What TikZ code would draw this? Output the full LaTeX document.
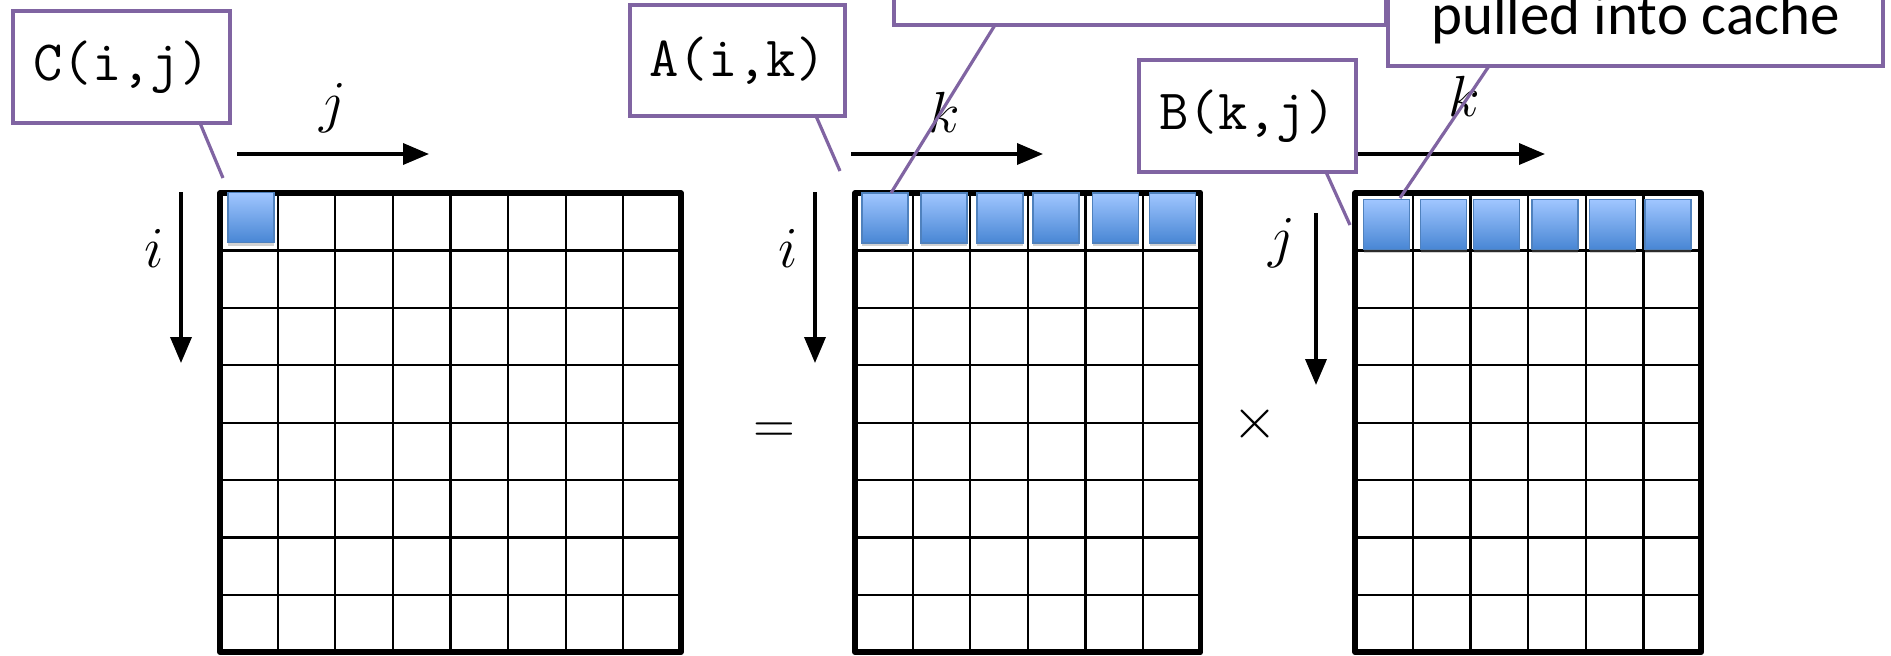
\RequirePackage{fix-cm}
\documentclass[tikz,border=0pt]{standalone}
\usepackage{fontspec}
\newfontfamily\calib{Carlito}
\usetikzlibrary{arrows.meta,shadows}
\definecolor{callpurple}{RGB}{128,100,162}
\definecolor{sqtop}{RGB}{160,198,255}
\definecolor{sqbot}{RGB}{72,134,212}
\definecolor{sqedge}{RGB}{79,129,189}
\tikzset{
  gridline/.style={line width=1.1pt, draw=black},
  frame/.style={line width=2.8pt, draw=black, line join=round},
  bluesq/.style={rectangle, inner sep=0pt, minimum width=23pt, minimum height=25pt,
    top color=sqtop, bottom color=sqbot, draw=sqedge, line width=0.6pt,
    drop shadow={shadow xshift=0pt, shadow yshift=-1.5pt, opacity=0.35}},
  axarrow/.style={line width=1.8pt, -{Triangle[length=13pt,width=10.5pt]}},
  mlabel/.style={inner sep=0pt, font=\fontsize{29}{32}\selectfont},
  callbox/.style={draw=callpurple, fill=white, line width=1.6pt, rectangle, inner sep=0pt,
    font=\fontsize{28.5}{30}\selectfont\ttfamily},
  callline/.style={draw=callpurple, line width=1.6pt}
}
\begin{document}
\begin{tikzpicture}[x=0.5pt,y=-0.5pt]
\clip (0,0) rectangle (1891,655);
\fill[white] (0,0) rectangle (1891,655);

% ---- Matrix C (8x8)
\foreach \k in {1,...,7} {
  \draw[gridline] ({220+57.6*\k},193) -- ({220+57.6*\k},652.2);
  \draw[gridline] (220,{193+57.4*\k}) -- (680.8,{193+57.4*\k});
}
\draw[frame] (220,193) rectangle (680.8,652.2);

% ---- Matrix A (8 rows x 6 cols)
\foreach \k in {1,...,5} \draw[gridline] ({855+57.6*\k},193) -- ({855+57.6*\k},652.2);
\foreach \k in {1,...,7} \draw[gridline] (855,{193+57.4*\k}) -- (1200.6,{193+57.4*\k});
\draw[frame] (855,193) rectangle (1200.6,652.2);

% ---- Matrix B (8 rows x 6 cols)
\foreach \k in {1,...,5} \draw[gridline] ({1355+57.7*\k},193) -- ({1355+57.7*\k},652.2);
\foreach \k in {1,...,7} \draw[gridline] (1355,{193+57.4*\k}) -- (1701.2,{193+57.4*\k});
\draw[frame] (1355,193) rectangle (1701.2,652.2);

% ---- blue cache squares
\node[bluesq] (c1) at (251,217.5) {};
\node[bluesq] (a1) at (885,218) {};
\node[bluesq] (a2) at (944,218) {};
\node[bluesq] (a3) at (1000,218) {};
\node[bluesq] (a4) at (1056,218) {};
\node[bluesq] (a5) at (1115.5,218) {};
\node[bluesq] (a6) at (1172.5,218) {};
\node[bluesq] (b1) at (1386.5,224.5) {};
\node[bluesq] (b2) at (1443.5,224.5) {};
\node[bluesq] (b3) at (1496.5,224.5) {};
\node[bluesq] (b4) at (1555,224.5) {};
\node[bluesq] (b5) at (1612.5,224.5) {};
\node[bluesq] (b6) at (1668,224.5) {};

% ---- index arrows
\coordinate (cjs) at (237,154);  \coordinate (cje) at (429,154);
\coordinate (cis) at (181,192);  \coordinate (cie) at (181,363);
\coordinate (aks) at (851,154);  \coordinate (ake) at (1043,154);
\coordinate (ais) at (815,192);  \coordinate (aie) at (815,363);
\coordinate (bks) at (1353,154); \coordinate (bke) at (1545,154);
\coordinate (bjs) at (1316,213); \coordinate (bje) at (1316,385);
\draw[axarrow] (cjs) -- (cje);
\draw[axarrow] (cis) -- (cie);
\draw[axarrow] (aks) -- (ake);
\draw[axarrow] (ais) -- (aie);
\draw[axarrow] (bks) -- (bke);
\draw[axarrow] (bjs) -- (bje);

% ---- index labels and operators
\node[mlabel] (lcj) at (333,108) {$j$};
\node[mlabel] (lci) at (154,248) {$i$};
\node[mlabel] (lak) at (944,112) {$k$};
\node[mlabel] (lai) at (788,248) {$i$};
\node[mlabel] (lbk) at (1464,96) {$k$};
\node[mlabel] (lbj) at (1282,243) {$j$};
\node[mlabel] (eq) at (774,433) {$=$};
\node[mlabel] (times) at (1255,424) {$\times$};

% ---- callouts
\coordinate (cp0) at (200,123);  \coordinate (cp1) at (223,178);
\coordinate (ap0) at (816,116);  \coordinate (ap1) at (840,171);
\coordinate (tp0) at (995,25);   \coordinate (tp1) at (891,193);
\coordinate (bp0) at (1326,172); \coordinate (bp1) at (1350,225);
\coordinate (pp0) at (1489,66);  \coordinate (pp1) at (1400,198);
\draw[callline] (cp0) -- (cp1);
\draw[callline] (ap0) -- (ap1);
\draw[callline] (tp0) -- (tp1);
\draw[callline] (bp0) -- (bp1);
\draw[callline] (pp0) -- (pp1);

\node[callbox, minimum width=108.5pt, minimum height=56pt] (cbox) at (121.5,67) {C(i,j)};
\node[callbox, minimum width=107.5pt, minimum height=55.5pt] (abox) at (737.5,60.5) {A(i,k)};
\node[callbox, minimum width=108.5pt, minimum height=56pt] (bbox) at (1247.5,116) {B(k,j)};
\node[callbox, minimum width=246pt, minimum height=40pt] (tbox) at (1140,-15) {};
\node[callbox, minimum width=247.5pt, minimum height=48pt] (pbox) at (1635.5,18) {};
\node[anchor=base, inner sep=0pt, font=\fontsize{29.5}{32}\selectfont\calib] (ptext) at (1635.5,34) {pulled into cache};
\end{tikzpicture}
\end{document}
